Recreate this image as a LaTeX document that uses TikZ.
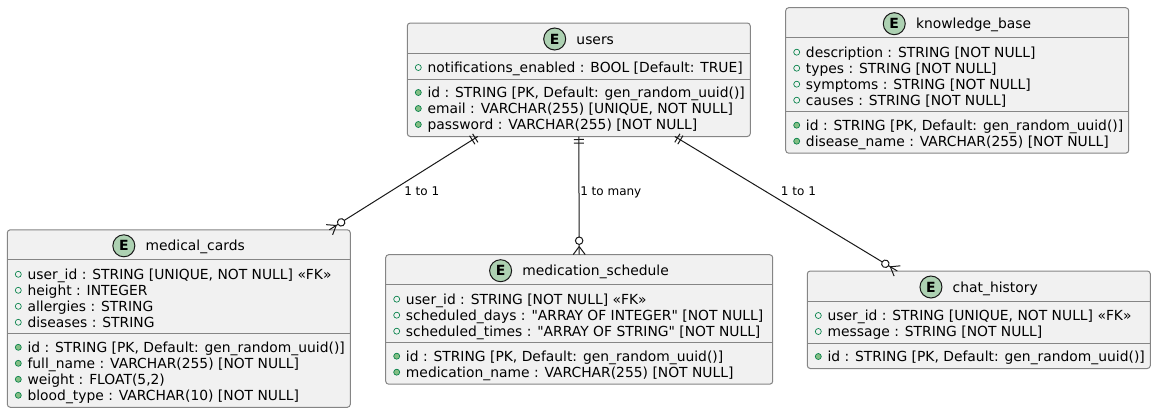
\documentclass[tikz,border=0pt]{standalone}
\usepackage{fontspec}
\setmainfont{DejaVu Sans}
\usetikzlibrary{calc}
\usetikzlibrary{decorations.markings}
\definecolor{entfill}{HTML}{F1F1F1}
\definecolor{entline}{HTML}{181818}
\definecolor{entgray}{HTML}{858585}
\definecolor{ecirc}{HTML}{ADD1B2}
\definecolor{keygreen}{HTML}{038048}
\definecolor{keyfill}{HTML}{84BE84}
\tikzset{
  entbox/.style={draw=entgray, fill=entfill, line width=0.75pt, rounded corners=2.25pt, inner sep=0pt, outer sep=0pt},
  sepline/.style={draw=entgray, line width=0.75pt},
  title/.style={font=\fontsize{10.4}{12}\selectfont, inner sep=0pt, anchor=base},
  ecircle/.style={circle, draw=entline, fill=ecirc, line width=0.75pt, minimum size=16.5pt, inner sep=0pt, font=\fontsize{10.5}{12}\selectfont\bfseries},
  attr/.style={font=\fontsize{10.4}{12}\selectfont, inner sep=0pt, anchor=base west},
  opt/.style={circle, draw=keygreen, line width=0.5pt, minimum size=4.5pt, inner sep=0pt},
  req/.style={opt, fill=keyfill},
  lbl/.style={font=\fontsize{9}{11}\selectfont, inner sep=0pt, anchor=base west},
  rel/.style={draw=entline, line width=0.75pt},
  exactlyone/.style={postaction={decorate, decoration={markings,
      mark=at position 2.25pt with {\draw[rel] (0,-3.75pt) -- (0,3.75pt);},
      mark=at position 4.9pt with {\draw[rel] (0,-3.75pt) -- (0,3.75pt);}}}},
  zeromany/.style={postaction={decorate, decoration={markings,
      mark=at position -10.5pt with {\draw[rel, fill=white] (0,0) circle[radius=2.8pt];},
      mark=at position -0.1pt with {\draw[rel] (-6pt,0) -- (0,4.5pt) (-6pt,0) -- (0,-4.5pt);}}}}
}
% name, left, top, width, title, #rows above, rows above, #rows below, rows below
\newcommand{\entity}[9]{%
  \pgfmathsetmacro\entW{#4*0.75}
  \pgfmathsetmacro\entH{(49.5+16*(#6+#8))*0.75}
  \node[entbox, minimum width=\entW pt, minimum height=\entH pt, anchor=north west] (#1) at (#2,#3) {};
  \node[title] (#1-t) at (#2+#4/2+16.4,#3+21) {#5};
  \path (#1-t.west) ++(-21.5,0) coordinate (#1-c);
  \node[ecircle] (#1-e) at (#1-c |- 0,#3+16) {E};
  \draw[sepline] (#2,#3+30) -- ++(#4,0);
  \foreach \row [count=\i] in {#7} {
    \node[opt] (#1-p\i) at (#2+11,#3+28.5+16*\i) {};
    \node[attr] (#1-a\i) at (#2+20,#3+33.5+16*\i) {\row};
  }
  \draw[sepline] (#2,#3+40+16*#6) -- ++(#4,0);
  \foreach \row [count=\i] in {#9} {
    \node[req] (#1-q\i) at (#2+11,#3+37.5+16*#6+16*\i) {};
    \node[attr] (#1-b\i) at (#2+20,#3+42.5+16*#6+16*\i) {\row};
  }
}
\begin{document}
\begin{tikzpicture}[x=0.75pt, y=-0.75pt]
  \useasboundingbox (0,0) rectangle (1156,414);
  \entity{users}{407.3}{23}{343}{users}
    {1}{{notifications\_enabled : BOOL [Default: TRUE]}}
    {3}{{id : STRING [PK, Default: gen\_random\_uuid()]},{email : VARCHAR(255) [UNIQUE, NOT NULL]},{password : VARCHAR(255) [NOT NULL]}}
  \entity{kbase}{785.7}{7.7}{343}{knowledge\_base}
    {4}{{description : STRING [NOT NULL]},{types : STRING [NOT NULL]},{symptoms : STRING [NOT NULL]},{causes : STRING [NOT NULL]}}
    {2}{{id : STRING [PK, Default: gen\_random\_uuid()]},{disease\_name : VARCHAR(255) [NOT NULL]}}
  \entity{cards}{7.3}{229.8}{343}{medical\_cards}
    {4}{{user\_id : STRING [UNIQUE, NOT NULL] «FK»},{height : INTEGER},{allergies : STRING},{diseases : STRING}}
    {4}{{id : STRING [PK, Default: gen\_random\_uuid()]},{full\_name : VARCHAR(255) [NOT NULL]},{weight : FLOAT(5,2)},{blood\_type : VARCHAR(10) [NOT NULL]}}
  \entity{sched}{385.7}{254.7}{387}{medication\_schedule}
    {3}{{user\_id : STRING [NOT NULL] «FK»},{scheduled\_days : \textquotedbl ARRAY OF INTEGER\textquotedbl{} [NOT NULL]},{scheduled\_times : \textquotedbl ARRAY OF STRING\textquotedbl{} [NOT NULL]}}
    {2}{{id : STRING [PK, Default: gen\_random\_uuid()]},{medication\_name : VARCHAR(255) [NOT NULL]}}
  \entity{chat}{807.3}{271}{343}{chat\_history}
    {2}{{user\_id : STRING [UNIQUE, NOT NULL] «FK»},{message : STRING [NOT NULL]}}
    {1}{{id : STRING [PK, Default: gen\_random\_uuid()]}}
  % relations
  \draw[rel, exactlyone, zeromany] ($(users.south)+(-101,0)$) -- ($(cards.north east)+(-21,0)$);
  \draw[rel, exactlyone, zeromany] (users.south) -- (sched.north);
  \draw[rel, exactlyone, zeromany] ($(users.south)+(96,0)$) -- ($(chat.north west)+(90,0)$);
  \node[lbl] (lcards) at (404,195.4) {1 to 1};
  \node[lbl] (lsched) at (580,195.4) {1 to many};
  \node[lbl] (lchat) at (780.7,195.4) {1 to 1};
\end{tikzpicture}
\end{document}
